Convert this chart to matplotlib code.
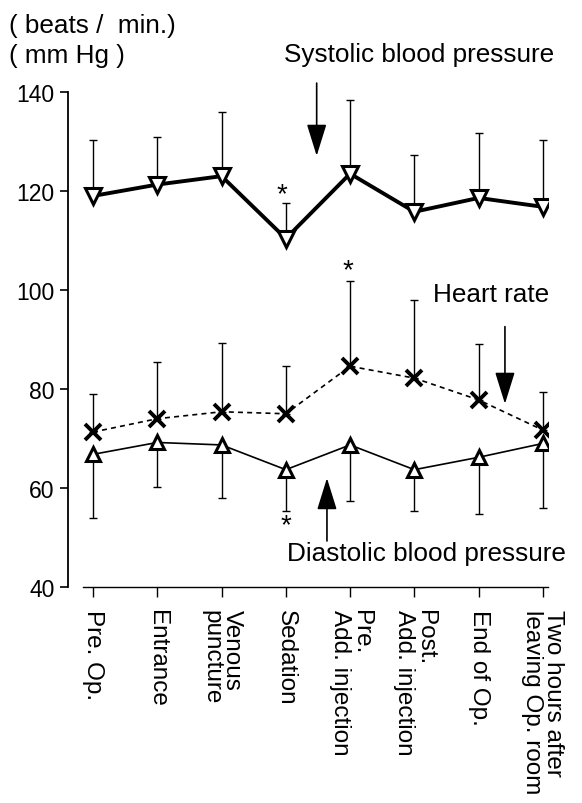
import numpy as np
import matplotlib
matplotlib.use("Agg")
import matplotlib.pyplot as plt

plt.rcParams['font.family'] = ['Liberation Sans', 'DejaVu Sans']

# time points
stages = ['Pre. Op.', 'Entrance', 'Venous\npuncture', 'Sedation',
          'Pre.\nAdd. injection', 'Post.\nAdd. injection', 'End of Op.',
          'Two hours after\nleaving Op. room']

# mean values and SD (upper for SBP/HR, lower for DBP)
sbp = [119.0, 121.3, 123.0, 110.4, 123.5, 115.8, 118.6, 116.8]
sbp_top = [130.3, 131.0, 136.0, 117.6, 138.4, 127.3, 131.7, 130.3]
hr = [71.3, 74.0, 75.4, 75.0, 84.6, 82.2, 77.8, 71.7]
hr_top = [79.0, 85.5, 89.3, 84.6, 101.9, 98.0, 89.0, 79.4]
dbp = [66.8, 69.2, 68.7, 63.7, 68.7, 63.7, 66.2, 69.0]
dbp_bot = [54.0, 60.2, 58.0, 55.4, 57.4, 55.4, 54.8, 56.0]

# significance marks (x, y)
sig_x = [2.94, 3.97, 3.0]
sig_y = [119.4, 104.0, 52.5]

x = np.arange(len(stages))
sbp = np.array(sbp); hr = np.array(hr); dbp = np.array(dbp)
sbp_err = [np.zeros(len(x)), np.array(sbp_top) - sbp]
hr_err = [np.zeros(len(x)), np.array(hr_top) - hr]
dbp_err = [dbp - np.array(dbp_bot), np.zeros(len(x))]

fig = plt.figure(figsize=(5.82, 8.04), dpi=100)
ax = fig.add_axes([68/582, (804-588)/804, (548-68)/582, (588-93)/804])

eb = dict(ecolor='black', elinewidth=1.0, capsize=3, capthick=1.0)
ax.errorbar(x, sbp, yerr=sbp_err, fmt='none', zorder=2, **eb)
ax.errorbar(x, hr, yerr=hr_err, fmt='none', zorder=2, **eb)
ax.errorbar(x, dbp, yerr=dbp_err, fmt='none', zorder=2, **eb)

ax.plot(x, sbp, '-', color='black', lw=2.8, marker='v', ms=11,
        mfc='white', mec='black', mew=2.2, zorder=3)
ax.plot(x, hr, '--', color='black', lw=1.2, dashes=(3, 2.5), marker='x',
        ms=11, mec='black', mew=2.8, zorder=3)
ax.plot(x, dbp, '-', color='black', lw=1.2, marker='^', ms=10,
        mfc='white', mec='black', mew=2.2, zorder=3)

for sx, sy in zip(sig_x, sig_y):
    ax.text(sx, sy, '*', ha='center', va='center', fontsize=20)

# labels with arrows
ap = dict(arrowstyle='-|>,head_length=0.9,head_width=0.28', color='black',
          lw=1.2, mutation_scale=22, shrinkA=0, shrinkB=0)
ax.annotate('Systolic blood pressure', xy=(2.97, 147.6), ha='left', va='center',
            fontsize=18.8, annotation_clip=False)
ax.annotate('', xy=(3.48, 127.1), xytext=(3.48, 141.8), arrowprops=ap,
            annotation_clip=False)
ax.text(5.29, 99.1, 'Heart rate', ha='left', va='center', fontsize=18.8)
ax.annotate('', xy=(6.41, 77.0), xytext=(6.41, 92.6), arrowprops=ap)
ax.text(3.02, 46.9, 'Diastolic blood pressure', ha='left', va='center', fontsize=18.8)
ax.annotate('', xy=(3.64, 62.0), xytext=(3.64, 49.3), arrowprops=ap)

fig.text(9/582, 1-26/804, '( beats /  min.)', ha='left', va='center', fontsize=18.8)
fig.text(9/582, 1-56/804, '( mm Hg )', ha='left', va='center', fontsize=18.8)

ax.set_xlim(-0.39, 7.08)
ax.set_ylim(40, 140)
ax.set_yticks([40, 60, 80, 100, 120, 140])
ax.set_xticks(x)
ax.set_xticklabels(stages, rotation=270, ha='center', va='top', fontsize=17.5,
                   linespacing=0.95)
for lab in ax.get_xticklabels():
    lab.set_multialignment('left')
ax.tick_params(axis='y', labelsize=16.5, length=6, width=1.2, direction='out')
ax.tick_params(axis='x', length=7, width=1.0, direction='out', pad=9)
ax.spines['top'].set_visible(False)
ax.spines['right'].set_visible(False)
ax.spines['left'].set_linewidth(1.3)
ax.spines['bottom'].set_linewidth(1.0)
ax.spines['bottom'].set_bounds(-0.15, 7.08)

fig.savefig('out.png', dpi=100)
